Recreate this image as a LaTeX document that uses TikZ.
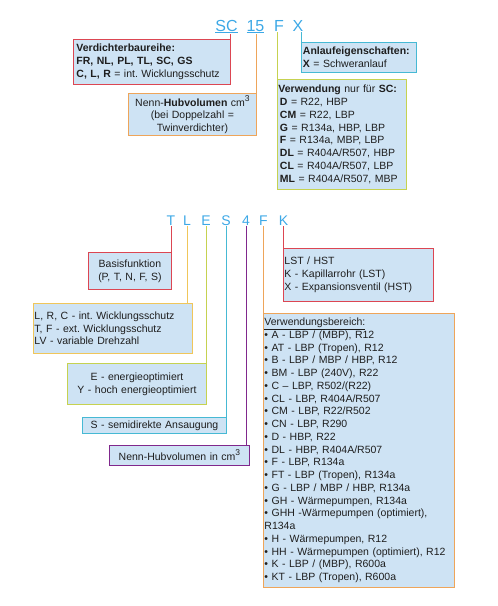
\documentclass[tikz,border=0pt]{standalone}
\usepackage{fontspec}
\setmainfont{Liberation Sans}
\frenchspacing
\definecolor{cred}{RGB}{220,70,82}
\definecolor{corange}{RGB}{238,165,90}
\definecolor{cygreen}{RGB}{198,210,80}
\definecolor{cgold}{RGB}{240,198,90}
\definecolor{ccyan}{RGB}{70,185,212}
\definecolor{cpurple}{RGB}{128,40,140}
\definecolor{boxfill}{RGB}{206,227,244}
\definecolor{letterblue}{RGB}{60,168,230}
\definecolor{txt}{RGB}{30,30,30}
\tikzset{
  box/.style={draw, fill=boxfill, line width=0.9pt, inner xsep=1.5pt, inner ysep=0pt,
    anchor=north west, text=txt, font=\fontsize{10.5}{12.75}\selectfont},
  boxL/.style={box, align=left},
  boxC/.style={box, align=center},
  bigletter/.style={anchor=base, inner sep=0.5pt, text=letterblue, font=\fontsize{16}{16}\selectfont},
  letter/.style={anchor=base, inner sep=0.5pt, text=letterblue, font=\fontsize{14}{14}\selectfont},
  conn/.style={line width=0.9pt}
}
\newcommand{\supthree}{\raisebox{0.9ex}{\fontsize{8.5}{8.5}\selectfont 3}}
\begin{document}
\begin{tikzpicture}[x=1pt,y=-1pt]
\useasboundingbox (0,0) rectangle (498,606);
% ---------- top code ----------
\node[bigletter] (sc) at (226.5,31) {\underline{SC}};
\node[bigletter] (n15) at (255.5,31) {\underline{15}};
\node[bigletter] (f1) at (279,31) {F};
\node[bigletter] (x1) at (298,31) {X};

\node[boxL, draw=cred, minimum width=157, minimum height=45, text width=151, inner xsep=3pt] (verd) at (73,39)
  {\textbf{Verdichterbaureihe:}\\\textbf{FR, NL, PL, TL, SC, GS}\\\textbf{C, L, R} = int. Wicklungsschutz};
\node[boxC, draw=corange, minimum width=128, minimum height=42, text width=125] (nenn) at (128,93)
  {Nenn-\textbf{Hubvolumen} cm\supthree\\(bei Doppelzahl =\\Twinverdichter)};
\node[boxL, draw=ccyan, minimum width=115, minimum height=30, text width=112] (anlauf) at (301,42)
  {\textbf{Anlaufeigenschaften:}\\\textbf{X} = Schweranlauf};
\node[boxL, draw=cygreen, minimum width=129, minimum height=110, text width=127, inner xsep=1pt] (verw) at (277,79)
  {\textbf{Verwendung} nur für \textbf{SC:}\\
   \hspace*{1.5pt}\textbf{D} = R22, HBP\\
   \hspace*{1.5pt}\textbf{CM} = R22, LBP\\
   \hspace*{1.5pt}\textbf{G} = R134a, HBP, LBP\\
   \hspace*{1.5pt}\textbf{F} = R134a, MBP, LBP\\
   \hspace*{1.5pt}\textbf{DL} = R404A/R507, HBP\\
   \hspace*{1.5pt}\textbf{CL} = R404A/R507, LBP\\
   \hspace*{1.5pt}\textbf{ML} = R404A/R507, MBP};

\draw[conn, cred] (verd.north east) -- (verd.north east |- sc.south);
\draw[conn, corange] (nenn.north east) -- (nenn.north east |- n15.south);
\draw[conn, cygreen] (verw.north west) -- (verw.north west |- f1.south);
\draw[conn, ccyan] (anlauf.north west) -- (anlauf.north west |- x1.south);

% ---------- second code ----------
\node[letter] (tT) at (171,225) {T};
\node[letter] (tL) at (187,225) {L};
\node[letter] (tE) at (206,225) {E};
\node[letter] (tS) at (226,225) {S};
\node[letter] (t4) at (246,225) {4};
\node[letter] (tF) at (263.5,225) {F};
\node[letter] (tK) at (283.5,225) {K};

\node[boxC, draw=cred, minimum width=83, minimum height=37, text width=80] (basis) at (88,252)
  {Basisfunktion\\(P, T, N, F, S)};
\node[boxL, draw=cgold, minimum width=159, minimum height=50, text width=157, inner xsep=1pt] (lrc) at (33,303)
  {L, R, C - int. Wicklungsschutz\\T, F - ext. Wicklungsschutz\\LV - variable Drehzahl};
\node[boxC, draw=cygreen, minimum width=139, minimum height=41, text width=136] (ebox) at (67,363)
  {E - energieoptimiert\\Y - hoch energieoptimiert};
\node[boxC, draw=ccyan, minimum width=144, minimum height=16, text width=141] (sbox) at (82,417)
  {S - semidirekte Ansaugung};
\node[boxC, draw=cpurple, minimum width=140, minimum height=20, text width=137] (hub) at (109,445)
  {Nenn-Hubvolumen in cm\supthree};
\node[boxL, draw=cred, minimum width=150, minimum height=53, text width=148, inner xsep=1pt] (lst) at (283,248)
  {LST / HST\\K - Kapillarrohr (LST)\\X - Expansionsventil (HST)};
\node[boxL, draw=corange, minimum width=191, minimum height=274, text width=189, inner xsep=1pt] (bereich) at (263,313)
  {\underline{Verwendungsbereich:}\\
   • A - LBP / (MBP), R12\\
   • AT - LBP (Tropen), R12\\
   • B - LBP / MBP / HBP, R12\\
   • BM - LBP (240V), R22\\
   • C – LBP, R502/(R22)\\
   • CL - LBP, R404A/R507\\
   • CM - LBP, R22/R502\\
   • CN - LBP, R290\\
   • D - HBP, R22\\
   • DL - HBP, R404A/R507\\
   • F - LBP, R134a\\
   • FT - LBP (Tropen), R134a\\
   • G - LBP / MBP / HBP, R134a\\
   • GH - Wärmepumpen, R134a\\
   • GHH -Wärmepumpen (optimiert),\\
   R134a\\
   • H - Wärmepumpen, R12\\
   • HH - Wärmepumpen (optimiert), R12\\
   • K - LBP / (MBP), R600a\\
   • KT - LBP (Tropen), R600a};

\draw[conn, cred] (basis.north east) -- (basis.north east |- tT.south);
\draw[conn, cgold] (tL.south) -- (tL.south |- lrc.north);
\draw[conn, cygreen] (ebox.north east) -- (ebox.north east |- tE.south);
\draw[conn, ccyan] (sbox.north east) -- (sbox.north east |- tS.south);
\draw[conn, cpurple] (t4.south) -- (t4.south |- hub.north);
\draw[conn, corange] (bereich.north west) -- (bereich.north west |- tF.south);
\draw[conn, cred] (lst.north west) -- (lst.north west |- tK.south);
\end{tikzpicture}
\end{document}
